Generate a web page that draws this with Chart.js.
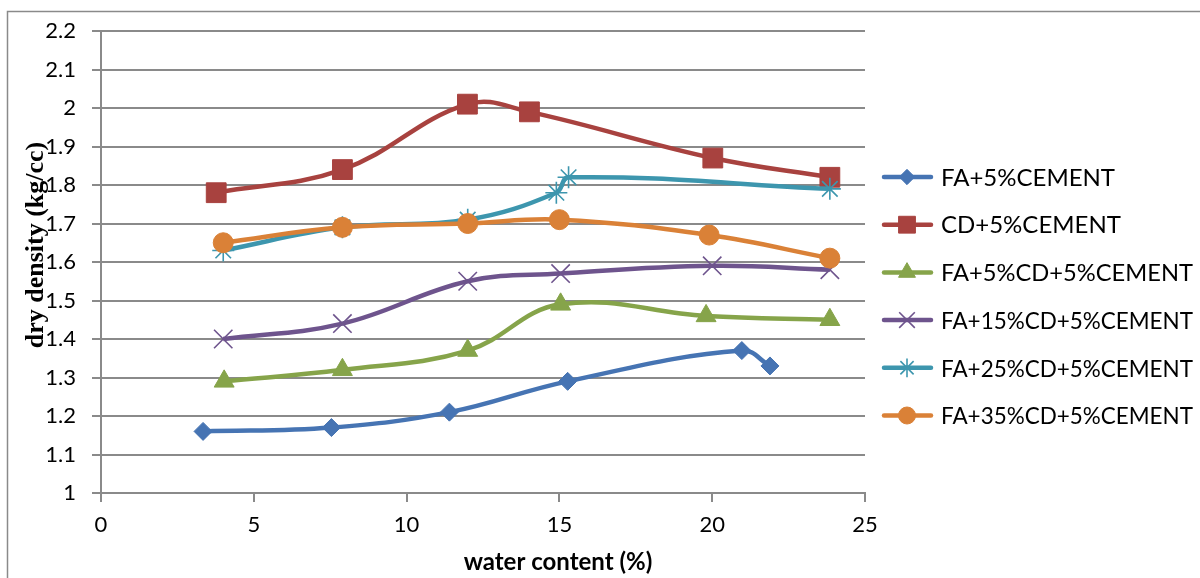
<!DOCTYPE html>
<html><head><meta charset="utf-8">
<script src="https://cdn.jsdelivr.net/npm/chart.js@4.4.1/dist/chart.umd.min.js"></script>
<style>html,body{margin:0;padding:0;background:#fff;}#wrap{position:relative;width:1200px;height:578px;}</style>
</head><body><div id="wrap"><canvas id="c" width="1200" height="578"></canvas></div>
<script>
// ---- data ----
const seriesNames = ['FA+5%CEMENT','CD+5%CEMENT','FA+5%CD+5%CEMENT','FA+15%CD+5%CEMENT','FA+25%CD+5%CEMENT','FA+35%CD+5%CEMENT'];
const faX   = [3.34, 7.54, 11.4, 15.27, 20.97, 21.89];
const faY   = [1.16, 1.17, 1.21, 1.29, 1.37, 1.33];
const cdX   = [3.77, 7.9, 11.99, 14.02, 20.02, 23.85];
const cdY   = [1.78, 1.84, 2.01, 1.99, 1.87, 1.82];
const fa5X  = [4.03, 7.9, 12.0, 15.04, 19.8, 23.85];
const fa5Y  = [1.29, 1.32, 1.37, 1.49, 1.46, 1.45];
const fa15X = [4.0, 7.9, 12.0, 15.04, 20.0, 23.85];
const fa15Y = [1.40, 1.44, 1.55, 1.57, 1.59, 1.58];
const fa25X = [4.0, 7.9, 12.0, 14.9, 15.3, 23.85];
const fa25Y = [1.63, 1.69, 1.71, 1.78, 1.82, 1.79];
const fa35X = [4.0, 7.9, 12.0, 15.0, 19.9, 23.85];
const fa35Y = [1.65, 1.69, 1.70, 1.71, 1.67, 1.61];
const xTickValues = [0, 5, 10, 15, 20, 25];
const yTickValues = [1, 1.1, 1.2, 1.3, 1.4, 1.5, 1.6, 1.7, 1.8, 1.9, 2, 2.1, 2.2];
const yTickLabels = ['1','1.1','1.2','1.3','1.4','1.5','1.6','1.7','1.8','1.9','2','2.1','2.2'];
const xTitle = 'water content (%)';
const yTitle = 'dry density (kg/cc)';

// ---- styles ----
const colors = ['#4674B3','#A8423F','#86A44A','#6E548D','#3D96AE','#DA8137'];
const styles = ['rectRot','rect','triangle','crossRot','star','circle'];
const radii  = [9, 14, 11.5, 13, 11, 10];
const xs = [faX, cdX, fa5X, fa15X, fa25X, fa35X];
const ys = [faY, cdY, fa5Y, fa15Y, fa25Y, fa35Y];
const gridColor = '#8a8a8a';
const tickFont = {family: 'Lato, "Liberation Sans", sans-serif', size: 22};

const datasets = seriesNames.map((name, i) => ({
  label: name,
  data: xs[i].map((x, j) => ({x: x, y: ys[i][j]})),
  showLine: true,
  borderColor: colors[i],
  backgroundColor: colors[i],
  borderWidth: 4.5,
  tension: 0.4,
  pointStyle: styles[i],
  pointRadius: radii[i],
  pointBorderWidth: (styles[i] === 'crossRot' || styles[i] === 'star') ? 1.6 : 1,
  pointBackgroundColor: colors[i],
  pointBorderColor: colors[i],
  order: 6 - i
}));

const decor = {
  id: 'decor',
  beforeDraw(chart) {
    const ctx = chart.ctx;
    ctx.save();
    ctx.fillStyle = '#fff';
    ctx.fillRect(0, 0, chart.width, chart.height);
    ctx.strokeStyle = gridColor;
    ctx.lineWidth = 1.5;
    ctx.beginPath();
    ctx.moveTo(7.5, 600); ctx.lineTo(7.5, 11.5); ctx.lineTo(1210, 11.5);
    ctx.stroke();
    ctx.restore();
  },
  afterDraw(chart) {
    const ctx = chart.ctx;
    ctx.save();
    // axis titles
    ctx.fillStyle = '#000';
    ctx.textAlign = 'center';
    ctx.textBaseline = 'middle';
    ctx.font = 'bold 24px Lato, "Liberation Sans", sans-serif';
    ctx.fillText(xTitle, 558, 562);
    ctx.save();
    ctx.translate(36, 245);
    ctx.rotate(-Math.PI / 2);
    ctx.font = 'bold 26px "Liberation Serif", "DejaVu Serif", serif';
    ctx.fillText(yTitle, 0, 0);
    ctx.restore();
    // legend
    ctx.textAlign = 'left';
    ctx.font = '24px Lato, "Liberation Sans", sans-serif';
    seriesNames.forEach((name, i) => {
      const y = 177 + i * 47.7;
      ctx.strokeStyle = colors[i];
      ctx.fillStyle = colors[i];
      ctx.lineWidth = 4.5;
      ctx.lineCap = 'round';
      ctx.beginPath(); ctx.moveTo(884, y); ctx.lineTo(931, y); ctx.stroke();
      ctx.lineCap = 'butt';
      ctx.lineWidth = datasets[i].pointBorderWidth;
      Chart.helpers.drawPoint(ctx, {pointStyle: styles[i], radius: radii[i] * 0.85, rotation: 0, borderWidth: datasets[i].pointBorderWidth}, 907, y);
      ctx.fillStyle = '#000';
      ctx.fillText(name, 941, y + 1, 252);
    });
    ctx.restore();
  }
};

new Chart(document.getElementById('c'), {
  type: 'scatter',
  data: {datasets: datasets},
  options: {
    responsive: false,
    devicePixelRatio: 1,
    animation: false,
    layout: {padding: {top: 31, right: 335, bottom: 0, left: 0}},
    plugins: {legend: {display: false}, tooltip: {enabled: false}},
    scales: {
      x: {
        type: 'linear', min: 0, max: 25,
        afterBuildTicks: s => { s.ticks = xTickValues.map(v => ({value: v})); },
        afterFit: s => { s.height = 85; },
        ticks: {font: tickFont, color: '#000', padding: 10, maxRotation: 0, autoSkip: false},
        grid: {display: true, drawOnChartArea: false, drawTicks: true, tickLength: 9, color: gridColor, lineWidth: 2},
        border: {display: true, color: gridColor, width: 2}
      },
      y: {
        type: 'linear', min: 1, max: 2.2,
        afterBuildTicks: s => { s.ticks = yTickValues.map(v => ({value: v})); },
        afterFit: s => { s.width = 101; },
        ticks: {font: tickFont, color: '#000', padding: 16, autoSkip: false,
                callback: (v, i) => yTickLabels[i]},
        grid: {display: true, drawTicks: true, tickLength: 9, color: gridColor, lineWidth: 2},
        border: {display: true, color: gridColor, width: 2}
      }
    }
  },
  plugins: [decor]
});
</script></body></html>
